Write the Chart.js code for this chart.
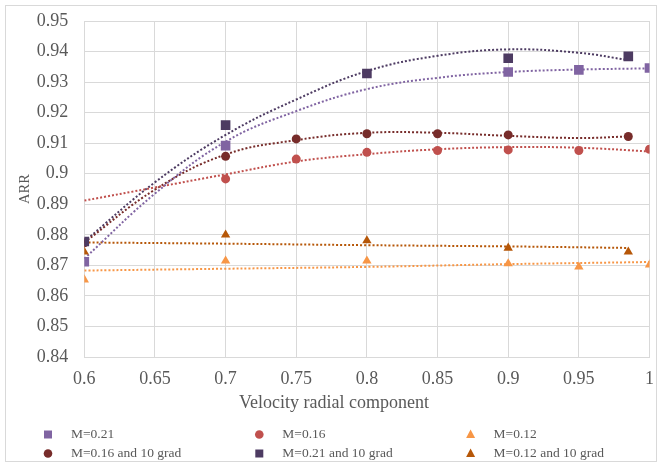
<!DOCTYPE html>
<html>
<head>
<meta charset="utf-8">
<script src="https://cdn.jsdelivr.net/npm/chart.js@4.4.0/dist/chart.umd.min.js"></script>
<style>
  body { margin: 0; background: #fff; }
  canvas { display: block; }
</style>
</head>
<body>
<canvas id="arr-chart" width="658" height="464"></canvas>
<script>
// measured points, one pair of arrays per series (legend order)
const m21X = [0.6, 0.7, 0.9, 0.95, 1.0];
const m21Y = [0.8712, 0.9092, 0.9333, 0.9340, 0.9346];

const m16X = [0.7, 0.75, 0.8, 0.85, 0.9, 0.95, 1.0];
const m16Y = [0.8983, 0.9048, 0.9070, 0.9076, 0.9078, 0.9076, 0.9080];

const m12X = [0.6, 0.7, 0.8, 0.9, 0.95, 1.0];
const m12Y = [0.8653, 0.8715, 0.8715, 0.8706, 0.8695, 0.8702];

const m16gX = [0.6, 0.7, 0.75, 0.8, 0.85, 0.9, 0.985];
const m16gY = [0.8774, 0.9057, 0.9114, 0.9131, 0.9131, 0.9127, 0.9122];

const m21gX = [0.6, 0.7, 0.8, 0.9, 0.985];
const m21gY = [0.8778, 0.9159, 0.9328, 0.9378, 0.9384];

const m12gX = [0.6, 0.7, 0.8, 0.9, 0.985];
const m12gY = [0.8744, 0.8800, 0.8781, 0.8757, 0.8744];

// trendlines
const trendX = [0.6, 0.65, 0.7, 0.75, 0.8, 0.85, 0.9, 0.95, 1.0];
const trendXg = [0.6, 0.65, 0.7, 0.75, 0.8, 0.85, 0.9, 0.95, 0.985];
const trendTenthsX = [0.6, 0.7, 0.8, 0.9, 1.0];
const trendTenthsXg = [0.6, 0.7, 0.8, 0.9, 0.985];

const m21Trend = [0.8722, 0.8935, 0.9105, 0.9205, 0.9277, 0.9314, 0.9333, 0.9341, 0.9345];
const m16Trend = [0.8912, 0.8955, 0.8998, 0.9040, 0.9064, 0.9080, 0.9087, 0.9085, 0.9073];
const m12Trend = [0.8683, 0.8689, 0.8695, 0.8704, 0.8711];
const m16gTrend = [0.8775, 0.8948, 0.9063, 0.9110, 0.9134, 0.9134, 0.9124, 0.9117, 0.9122];
const m21gTrend = [0.8778, 0.8972, 0.9127, 0.9243, 0.9336, 0.9386, 0.9407, 0.9396, 0.9372];
const m12gTrend = [0.8775, 0.8771, 0.8766, 0.8762, 0.8757];

const seriesLabels = ["M=0.21", "M=0.16", "M=0.12", "M=0.16 and 10 grad", "M=0.21 and 10 grad", "M=0.12 and 10 grad"];
const seriesColors = ["#8064A2", "#C0504D", "#F79646", "#772C2A", "#4D3B62", "#B65708"];
const seriesStyles = ["rect", "circle", "triangle", "circle", "rect", "triangle"];
// which markers sit on top where they overlap (lower = on top)
const seriesLayer = [0, 0, 0, 0, -1, 0];

const xTitle = "Velocity radial component";
const yTitle = "ARR";

const textColor = "#595959";
const gridColor = "#D9D9D9";
const fontFamily = "'Liberation Serif', 'DejaVu Serif', serif";

function pairUp(xs, ys) {
    return xs.map((x, i) => ({ x: x, y: ys[i] }));
}

function markerRadius(style) {
    if (style === "rect") return 6.8;
    if (style === "triangle") return 5.4;
    return 4.5;
}

const pointSets = [
    [m21X, m21Y, trendX, m21Trend],
    [m16X, m16Y, trendX, m16Trend],
    [m12X, m12Y, trendTenthsX, m12Trend],
    [m16gX, m16gY, trendXg, m16gTrend],
    [m21gX, m21gY, trendXg, m21gTrend],
    [m12gX, m12gY, trendTenthsXg, m12gTrend],
];

let datasets = [];
pointSets.forEach((set, i) => {
    // markers
    datasets.push({
        label: seriesLabels[i],
        data: pairUp(set[0], set[1]),
        showLine: false,
        pointStyle: seriesStyles[i],
        pointRadius: markerRadius(seriesStyles[i]),
        pointBackgroundColor: seriesColors[i],
        pointBorderWidth: 0,
        order: seriesLayer[i],
    });
    // dotted trendline
    datasets.push({
        label: seriesLabels[i] + " trend",
        isTrend: true,
        data: pairUp(set[2], set[3]),
        showLine: true,
        borderColor: seriesColors[i],
        borderWidth: 2,
        borderDash: [2, 2],
        pointRadius: 0,
        tension: 0.4,
        order: 1,
    });
});

// frame, x title and the three-column legend
const chartDecor = {
    id: "chartDecor",
    afterDraw(chart) {
        const ctx = chart.ctx;
        ctx.save();
        ctx.strokeStyle = gridColor;
        ctx.lineWidth = 1;
        ctx.strokeRect(5.5, 5.5, 651, 456);

        ctx.fillStyle = textColor;
        ctx.font = "18px " + fontFamily;
        ctx.textAlign = "center";
        ctx.textBaseline = "middle";
        ctx.fillText(xTitle, 334, 403);

        ctx.font = "13.5px " + fontFamily;
        ctx.textAlign = "left";
        let n = 0;
        chart.data.datasets.forEach((ds) => {
            if (ds.isTrend) return;
            let col = n % 3;
            let row = Math.floor(n / 3);
            let mx = 48 + col * 211.3;
            let my = 434.5 + row * 19;
            drawMarker(ctx, ds.pointStyle, ds.pointBackgroundColor, mx, my);
            ctx.fillStyle = textColor;
            ctx.fillText(ds.label, mx + 23, my);
            n++;
        });
        ctx.restore();
    }
};

function drawMarker(ctx, style, color, x, y) {
    ctx.fillStyle = color;
    ctx.beginPath();
    if (style === "rect") {
        ctx.rect(x - 4, y - 4, 8, 8);
    } else if (style === "triangle") {
        ctx.moveTo(x, y - 5);
        ctx.lineTo(x + 4.5, y + 3.5);
        ctx.lineTo(x - 4.5, y + 3.5);
        ctx.closePath();
    } else {
        ctx.arc(x, y, 4.3, 0, Math.PI * 2);
    }
    ctx.fill();
}

const tickFormat = (v) => String(+Number(v).toFixed(2));

new Chart(document.getElementById("arr-chart"), {
    type: "scatter",
    data: { datasets: datasets },
    options: {
        responsive: false,
        animation: false,
        devicePixelRatio: 1,
        layout: { padding: { top: 21, right: 8.5, bottom: 47, left: 0 } },
        plugins: {
            legend: { display: false },
            tooltip: { enabled: false },
        },
        scales: {
            x: {
                type: "linear",
                min: 0.6,
                max: 1.0,
                afterFit: (scale) => {
                    scale.height = 60;
                    scale.paddingLeft = 0;
                    scale.paddingRight = 0;
                },
                grid: { color: gridColor, drawTicks: false },
                border: { color: gridColor },
                ticks: {
                    stepSize: 0.05,
                    padding: 11,
                    color: textColor,
                    font: { family: fontFamily, size: 18 },
                    callback: tickFormat,
                },
            },
            y: {
                type: "linear",
                min: 0.84,
                max: 0.95,
                afterFit: (scale) => {
                    scale.width = 84.3;
                    scale.paddingTop = 0;
                    scale.paddingBottom = 0;
                },
                grid: { color: gridColor, drawTicks: false },
                border: { color: gridColor },
                title: {
                    display: true,
                    text: yTitle,
                    color: textColor,
                    font: { family: fontFamily, size: 14.5 },
                    padding: { top: 16, bottom: 0 },
                },
                ticks: {
                    stepSize: 0.01,
                    padding: 16,
                    color: textColor,
                    font: { family: fontFamily, size: 18 },
                    callback: tickFormat,
                },
            },
        },
    },
    plugins: [chartDecor],
});
</script>
</body>
</html>
